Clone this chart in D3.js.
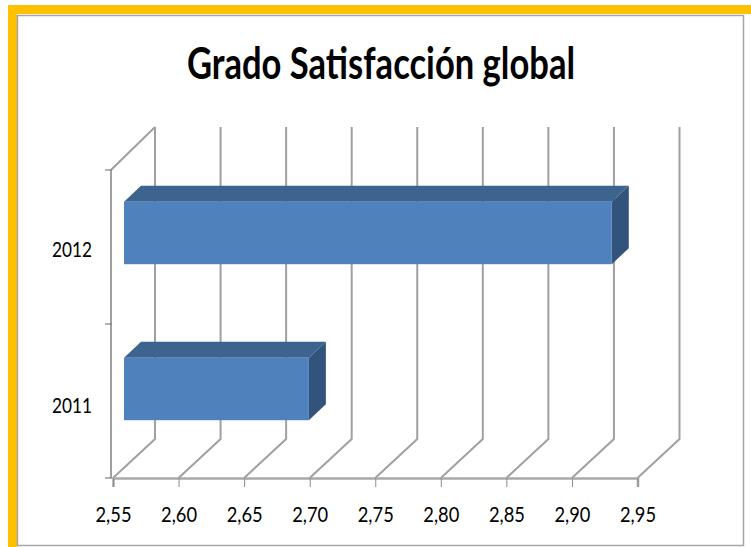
<!DOCTYPE html>
<html lang="en">

<head>
    <meta charset="UTF-8">
    <title>Grado Satisfacción global</title>
    <style>
        html, body { margin: 0; padding: 0; background: #fff; }
        svg { display: block; }
        text { font-family: Lato, "Open Sans", sans-serif; fill: #000; }
    </style>
</head>

<body>
    <svg id="chart"></svg>

    <script src="https://d3js.org/d3.v7.min.js"></script>
    <script>
        // Data
        const years = ["2012", "2011"];
        const values = [2.922, 2.691];
        const xTicks = [2.55, 2.60, 2.65, 2.70, 2.75, 2.80, 2.85, 2.90, 2.95];
        const chartTitle = "Grado Satisfacción global";

        // Constants
        const width = 751, height = 547;
        const axisY = 478, axisTop = 170;
        const depthX = 42, depthY = 39;   // floor depth of the 3d box
        const barDX = 17, barDY = 16;     // depth of the bars
        const barInset = 11;              // bars stand a little inside the floor

        const svg = d3.select("#chart")
            .attr("width", width)
            .attr("height", height);

        const defs = svg.append("defs");
        const blur = defs.append("filter").attr("id", "soft");
        blur.append("feGaussianBlur").attr("stdDeviation", 0.5);

        // Frame
        svg.append("rect")
            .attr("x", 12.5).attr("y", 9.5)
            .attr("width", 800).attr("height", 600)
            .attr("fill", "none")
            .attr("stroke", "#ffc000")
            .attr("stroke-width", 9);
        svg.append("rect")
            .attr("x", 17.5).attr("y", 15.5)
            .attr("width", 726).attr("height", 530)
            .attr("fill", "#fff")
            .attr("stroke", "#a6a6a6")
            .attr("stroke-width", 1.5);

        // Scales
        const x = d3.scaleLinear()
            .domain([2.55, 2.95])
            .range([113, 637.5]);

        const y = d3.scaleBand()
            .domain(years)
            .range([155, 467])
            .paddingInner(0.6)
            .paddingOuter(0.3);

        const yWall = d3.scalePoint()
            .domain(["top", "mid", "bottom"])
            .range([axisTop, axisY]);

        const chart = svg.append("g").attr("filter", "url(#soft)");

        // Gridlines on floor and back wall
        const grid = d3.line();
        chart.append("g")
            .selectAll("path")
            .data(xTicks)
            .join("path")
            .attr("d", d => grid([
                [x(d), axisY],
                [x(d) + depthX, axisY - depthY],
                [x(d) + depthX, axisTop - 43]
            ]))
            .attr("fill", "none")
            .attr("stroke", "#a0a0a0")
            .attr("stroke-width", 2);

        // Side wall
        chart.append("path")
            .attr("d", grid([
                [x(2.55) - 2, axisY],
                [x(2.55) - 2, axisTop],
                [x(2.55) + depthX, axisTop - 43]
            ]))
            .attr("fill", "none")
            .attr("stroke", "#a0a0a0")
            .attr("stroke-width", 2);

        // Floor front edge + ticks
        const xAxis = d3.axisBottom(x)
            .tickValues(xTicks)
            .tickFormat(d => d3.format(".2f")(d).replace(".", ","))
            .tickSize(9)
            .tickPadding(20);

        const xAxisG = svg.append("g")
            .attr("transform", "translate(0," + axisY + ")")
            .call(xAxis);
        xAxisG.select(".domain").attr("stroke", "#a9a9a9").attr("stroke-width", 2.5);
        xAxisG.selectAll(".tick line").attr("stroke", "#8c8c8c").attr("stroke-width", 1);
        xAxisG.selectAll("text")
            .attr("textLength", 36)
            .attr("lengthAdjust", "spacingAndGlyphs")
            .style("font-size", "21px")
            .style("fill", "#000")
            .style("font-family", "Lato");

        // Left ticks
        chart.append("g")
            .selectAll("line")
            .data(yWall.domain())
            .join("line")
            .attr("x1", 105)
            .attr("x2", 112)
            .attr("y1", d => yWall(d))
            .attr("y2", d => yWall(d))
            .attr("stroke", "#808080")
            .attr("stroke-width", 1.2);

        // Bars
        const bars = svg.append("g").attr("filter", "url(#soft)")
            .selectAll("g")
            .data(years.map((year, i) => ({ year: year, value: values[i] })))
            .join("g");

        const barLeft = x(2.55) + barInset;
        const barRight = d => barLeft + x(d.value) - x(2.55);

        // top face
        bars.append("path")
            .attr("d", d => grid([
                [barLeft, y(d.year)],
                [barLeft + barDX, y(d.year) - barDY],
                [barRight(d) + barDX, y(d.year) - barDY],
                [barRight(d), y(d.year)]
            ]) + "Z")
            .attr("fill", "#3e648f");

        // side face
        bars.append("path")
            .attr("d", d => grid([
                [barRight(d), y(d.year)],
                [barRight(d) + barDX, y(d.year) - barDY],
                [barRight(d) + barDX, y(d.year) + y.bandwidth() - barDY],
                [barRight(d), y(d.year) + y.bandwidth()]
            ]) + "Z")
            .attr("fill", "#32537c");

        // front face
        bars.append("rect")
            .attr("x", barLeft)
            .attr("y", d => y(d.year))
            .attr("width", d => barRight(d) - barLeft)
            .attr("height", y.bandwidth())
            .attr("fill", "#4f81bd");

        // Category labels
        svg.append("g")
            .selectAll("text")
            .data(years)
            .join("text")
            .attr("x", 72)
            .attr("y", d => y(d) + y.bandwidth() / 2 + 24)
            .attr("text-anchor", "middle")
            .attr("textLength", 40)
            .attr("lengthAdjust", "spacingAndGlyphs")
            .style("font-size", "21px")
            .text(d => d);

        // Title
        svg.append("text")
            .attr("x", 381)
            .attr("y", 79)
            .attr("text-anchor", "middle")
            .attr("textLength", 388)
            .attr("lengthAdjust", "spacingAndGlyphs")
            .style("font-size", "43px")
            .style("font-weight", "700")
            .text(chartTitle);
    </script>
</body>

</html>
